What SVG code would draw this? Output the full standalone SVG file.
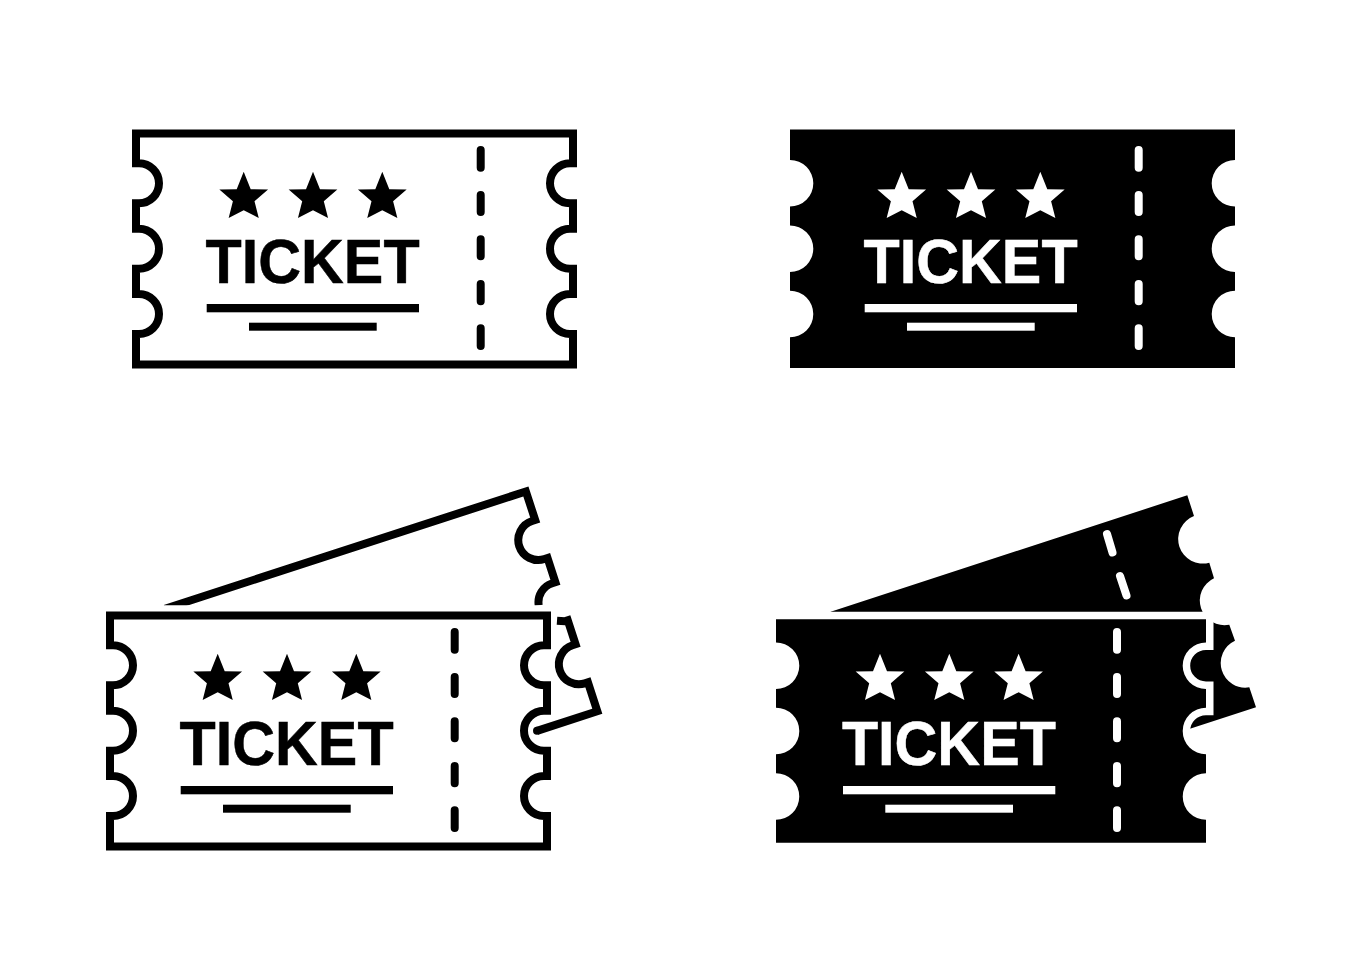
<svg xmlns="http://www.w3.org/2000/svg" width="1362" height="980" viewBox="0 0 1362 980">
<style>
.o{fill:none;stroke:#000;stroke-width:8}
.t{font-family:"Liberation Sans",Arial,sans-serif;font-weight:700;font-size:63px;stroke-width:.5}
.k{fill:#000}.w{fill:#fff}
text.k{stroke:#000}text.w{stroke:#fff}
.dk{stroke:#000;stroke-width:8;stroke-linecap:round;fill:none}
.dw{stroke:#fff;stroke-width:8;stroke-linecap:round;fill:none}
</style>
<defs>
<polygon id="star" points="0,-25.6 7,-8 24.35,-7.91 10.8,4 15.05,20.71 0,13 -15.05,20.71 -10.8,4 -24.35,-7.91 -7,-8"/>
<path id="outline" d="M136 133.5H573V163.3H570A20 20 0 0 0 570 203.3H573V228.7H570A20 20 0 0 0 570 268.7H573V294H570A20 20 0 0 0 570 334H573V364.5H136V334H139A20 20 0 0 0 139 294H136V268.7H139A20 20 0 0 0 139 228.7H136V203.3H139A20 20 0 0 0 139 163.3H136Z"/>
<path id="dashes" d="M0 150V167.7M0 195V212M0 239.3V256.3M0 284V301.3M0 328.3V346"/>
<clipPath id="above"><rect x="100" y="470" width="520" height="135.3"/></clipPath>
</defs>
<rect width="1362" height="980" fill="#fff"/>

<g id="ticket-outline">
<use href="#outline" class="o"/>
<use href="#dashes" x="480.7" class="dk"/>
<g class="k"><use href="#star" x="243.7" y="197.3"/><use href="#star" x="313" y="197.3"/><use href="#star" x="382.3" y="197.3"/></g>
<text class="t k" x="205.6" y="282.7" textLength="214" lengthAdjust="spacingAndGlyphs">TICKET</text>
<rect class="k" x="206.7" y="304" width="212.3" height="8.3"/>
<rect class="k" x="249" y="322.7" width="127.7" height="8"/>
</g>

<g id="ticket-solid">
<path class="k" d="M790 129.5H1235V160A23.3 23.3 0 0 0 1235 206.6V225.4A23.3 23.3 0 0 0 1235 272V290.7A23.3 23.3 0 0 0 1235 337.3V368H790V337.3A23.3 23.3 0 0 0 790 290.7V272A23.3 23.3 0 0 0 790 225.4V206.6A23.3 23.3 0 0 0 790 160Z"/>
<use href="#dashes" x="1138.7" class="dw"/>
<g class="w"><use href="#star" x="901.7" y="197.3"/><use href="#star" x="971" y="197.3"/><use href="#star" x="1040.3" y="197.3"/></g>
<text class="t w" x="863.6" y="282.7" textLength="214" lengthAdjust="spacingAndGlyphs">TICKET</text>
<rect class="w" x="864.7" y="304" width="212.3" height="8.3"/>
<rect class="w" x="907" y="322.7" width="127.7" height="8"/>
</g>

<g id="pair-outline">
<g id="pair-outline-back">
<path class="o" clip-path="url(#above)" d="M165 608.7L525.89 491.43L535.17 520L532.08 521A20 20 0 0 0 544.44 559.05L547.53 558.04L555.38 582.2L552.29 583.2A20 20 0 0 0 538.71 605.3"/>
<path class="o" d="M557 620.7L564.65 621.24L567.74 620.24L575.56 644.3L572.47 645.3A20 20 0 0 0 584.83 683.34L587.92 682.34L597.31 711.25L537 730.85"/>
<circle class="k" cx="537" cy="730.85" r="4"/>
</g>
<g id="pair-outline-front" transform="translate(-26 482)">
<use href="#outline" class="o"/>
<use href="#dashes" x="480.7" class="dk"/>
<g class="k"><use href="#star" x="243.7" y="197.3"/><use href="#star" x="313" y="197.3"/><use href="#star" x="382.3" y="197.3"/></g>
<text class="t k" x="205.6" y="282.7" textLength="214" lengthAdjust="spacingAndGlyphs">TICKET</text>
<rect class="k" x="206.7" y="304" width="212.3" height="8.3"/>
<rect class="k" x="249" y="322.7" width="127.7" height="8"/>
</g>
</g>

<g id="pair-solid">
<g id="pair-solid-back">
<path class="k" d="M830.7 611.7L1187.3 495.3L1194 516A24.6 24.6 0 0 0 1209.3 562.7L1214 578.3A24.6 24.6 0 0 0 1229.3 624.7L1235 640.7A24.6 24.6 0 0 0 1249.3 687.3L1256 707.3L1150 741.7L1000 741L830.7 700Z"/>
<path class="dw" d="M1107 534L1112.5 552.5M1120 576L1126.5 595.5"/>
</g>
<g id="pair-solid-front">
<path class="k" style="stroke:#fff;stroke-width:15;paint-order:stroke" d="M776 619.3H1206V642.4A23.3 23.3 0 0 0 1206 689V707.7A23.3 23.3 0 0 0 1206 754.3V773.2A23.3 23.3 0 0 0 1206 819.8V842.7H776V819.8A23.3 23.3 0 0 0 776 773.2V754.3A23.3 23.3 0 0 0 776 707.7V689A23.3 23.3 0 0 0 776 642.4Z"/>
<use href="#dashes" x="1117" y="482" class="dw"/>
<g class="w"><use href="#star" x="880" y="679.3"/><use href="#star" x="949.3" y="679.3"/><use href="#star" x="1018.6" y="679.3"/></g>
<text class="t w" x="841.9" y="764.7" textLength="214" lengthAdjust="spacingAndGlyphs">TICKET</text>
<rect class="w" x="843" y="786" width="212.3" height="8.3"/>
<rect class="w" x="885.3" y="804.7" width="127.7" height="8"/>
</g>
</g>
</svg>
